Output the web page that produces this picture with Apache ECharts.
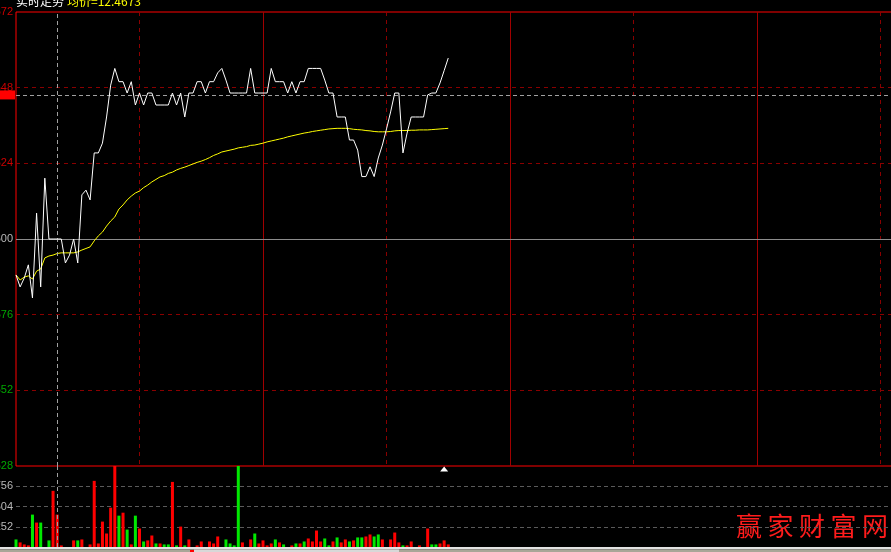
<!DOCTYPE html>
<html>
<head>
<meta charset="utf-8">
<script src="https://cdn.jsdelivr.net/npm/echarts@6/dist/echarts.min.js"></script>
<style>
html,body{margin:0;padding:0;background:#000;}
#chart{width:891px;height:552px;}
</style>
</head>
<body>
<div id="chart"></div>
<script>
// ---- data (prices in thousandths, e.g. 12600 = 12.600) ----
const priceLine = [
 12588.6,12584.8,12587.6,12591.8,12581.3,12608.2,12584.8,12619.3,12600.0,12600.0,
 12600.0,12600.0,12592.4,12594.9,12600.0,12592.4,12614.0,12615.5,12612.4,12627.3,
 12627.3,12630.4,12638.7,12648.8,12654.1,12649.9,12649.9,12646.3,12649.9,12642.5,
 12646.3,12642.5,12646.3,12646.3,12642.5,12642.5,12642.5,12642.5,12646.3,12642.5,
 12646.3,12638.7,12646.3,12646.3,12649.9,12649.9,12646.3,12649.9,12649.9,12652.7,
 12654.1,12650.4,12646.3,12646.3,12646.3,12646.3,12646.3,12654.1,12646.3,12646.3,
 12646.3,12646.3,12654.1,12649.9,12649.9,12649.9,12646.3,12649.9,12646.3,12649.9,
 12649.9,12654.1,12654.1,12654.1,12654.1,12650.4,12646.3,12646.3,12638.7,12638.7,
 12638.7,12631.4,12631.4,12628.2,12619.8,12619.8,12622.9,12619.8,12625.7,12629.8,
 12634.9,12640.3,12646.3,12646.3,12627.3,12633.6,12638.7,12638.7,12638.7,12638.7,
 12645.7,12646.3,12646.3,12649.5,12653.4,12657.4
];
const avgLine = [
 12588.6,12587.0,12587.9,12588.3,12587.3,12589.8,12590.5,12594.0,12594.6,12594.9,
 12595.4,12595.6,12595.6,12595.6,12595.6,12595.9,12596.5,12597.0,12597.5,12599.4,
 12601.0,12602.2,12604.1,12605.7,12607.0,12609.5,12610.8,12612.4,12613.6,12614.6,
 12615.2,12616.3,12617.1,12618.1,12618.9,12619.7,12620.1,12620.8,12621.2,12621.9,
 12622.4,12622.8,12623.3,12623.8,12624.3,12624.7,12625.2,12625.8,12626.5,12627.0,
 12627.6,12627.9,12628.2,12628.5,12628.9,12629.1,12629.3,12629.7,12629.8,12630.1,
 12630.4,12630.8,12631.1,12631.4,12631.7,12632.0,12632.4,12632.7,12633.0,12633.3,
 12633.6,12633.8,12634.1,12634.3,12634.5,12634.7,12634.9,12635.0,12635.1,12635.1,
 12635.1,12635.0,12634.8,12634.7,12634.6,12634.4,12634.3,12634.1,12634.0,12634.0,
 12634.0,12634.1,12634.3,12634.4,12634.4,12634.4,12634.5,12634.5,12634.6,12634.6,
 12634.6,12634.7,12634.8,12634.9,12635.0,12635.1
];
const volumes = [
 94,57,32,20,403,304,304,0,82,699,
 403,20,0,0,82,82,94,0,32,823,
 44,316,168,489,1008,390,427,217,32,390,
 230,69,82,143,44,44,32,32,810,20,
 254,20,94,0,20,69,0,69,44,131,
 0,94,44,20,1008,57,0,94,168,44,
 82,20,44,94,57,32,0,20,44,44,
 69,106,69,205,69,106,20,69,119,57,
 94,69,82,119,119,131,156,131,156,94,
 0,94,180,57,20,20,69,0,20,0,
 230,32,32,44,82,32
];
// 1 = up (red), -1 = down (green)
const volDir = [
 -1,1,1,1,-1,1,-1,1,-1,1,
 1,1,1,1,1,-1,1,1,1,1,
 1,1,1,1,1,-1,1,-1,1,-1,
 1,-1,1,1,-1,1,-1,-1,1,-1,
 1,-1,1,1,1,1,1,1,1,1,
 1,-1,-1,-1,-1,1,1,1,-1,1,
 1,1,1,-1,1,-1,1,1,-1,1,
 -1,1,1,1,1,-1,-1,1,-1,1,
 1,-1,1,-1,-1,1,1,-1,-1,1,
 1,1,1,1,-1,1,1,1,1,1,
 1,-1,-1,1,1,1
];
const prevClose = 12600;
const priceMin = 12528, priceMax = 12672, priceStep = 24;
const volMax = 1008, volStep = 252;
const crossIndex = 10;
const crossPrice = 12645.7;
const markerIndex = 104;
const titleLeft = '实时走势';
const titleRight = '均价=12.4673';
const watermark = ['赢','家','财','富','网'];

// time categories 09:30-11:30, 13:01-15:00
const times = [];
function fmt(m){const h=Math.floor(m/60), mm=m%60; return (h<10?'0':'')+h+':'+(mm<10?'0':'')+mm;}
for(let m=9*60+30;m<=11*60+30;m++) times.push(fmt(m));
for(let m=13*60+1;m<=15*60;m++) times.push(fmt(m));

const chart = echarts.init(document.getElementById('chart'), null, {renderer:'canvas'});
const lblFont = {fontSize:11, fontFamily:'Liberation Sans'};

const option = {
  backgroundColor:'#000000',
  animation:false,
  grid:[
    {left:16, top:12, width:988, height:454, show:true, borderColor:'#ff0000', borderWidth:1, backgroundColor:'transparent', containLabel:false, outerBoundsMode:'none'},
    {left:16, top:466, width:988, height:81, show:false, containLabel:false, outerBoundsMode:'none'}
  ],
  xAxis:[
    {type:'category', gridIndex:0, data:times, boundaryGap:false,
     axisLine:{show:false}, axisTick:{show:false}, axisLabel:{show:false},
     splitLine:{show:true, interval:function(i){return i%30===0 && i%60!==0;}, lineStyle:{color:'#8a0000', type:[4,4], width:1}}},
    {type:'category', gridIndex:0, data:times, boundaryGap:false, position:'top',
     axisLine:{show:false}, axisTick:{show:false}, axisLabel:{show:false},
     splitLine:{show:true, interval:function(i){return i>0 && i%60===0;}, lineStyle:{color:'#a00000', type:'solid', width:1}}},
    {type:'category', gridIndex:1, data:times, boundaryGap:false,
     axisLine:{show:false}, axisTick:{show:false}, axisLabel:{show:false}, splitLine:{show:false}}
  ],
  yAxis:[
    {type:'value', gridIndex:0, min:priceMin, max:priceMax, interval:priceStep, z:0,
     axisLine:{show:false}, axisTick:{show:false},
     axisLabel:{margin:3, formatter:function(v){
        const s=String(Math.round(v)).slice(-3);
        if(v>prevClose) return '{r|'+s+'}';
        if(v<prevClose) return '{g|'+s+'}';
        return '{w|'+s+'}';
      },
      rich:{r:Object.assign({color:'#cc0000'},lblFont), g:Object.assign({color:'#00a800'},lblFont), w:Object.assign({color:'#b8b8b8'},lblFont)}},
     splitLine:{show:true, showMinLine:false, showMaxLine:false, lineStyle:{color:'#8a0000', type:[4,4], width:1}}},
    {type:'value', gridIndex:1, min:0, max:volMax, interval:volStep,
     axisLine:{show:false}, axisTick:{show:false},
     axisLabel:Object.assign({margin:3, color:'#b8b8b8', formatter:function(v){return (v===0||v===volMax)?'':String(v);}}, lblFont),
     splitLine:{show:true, showMinLine:false, showMaxLine:false, lineStyle:{color:'#5a5a5a', type:[4,3], width:1}}},
    // previous-close reference line (solid grey at 12.600)
    {type:'value', gridIndex:0, min:priceMin, max:priceMax, interval:prevClose-priceMin, z:1,
     axisLine:{show:false}, axisTick:{show:false}, axisLabel:{show:false},
     splitLine:{show:true, showMinLine:false, showMaxLine:false, lineStyle:{color:'#8c8c8c', type:'solid', width:1}}}
  ],
  series:[
    {name:'价格', type:'line', xAxisIndex:0, yAxisIndex:0, data:priceLine, showSymbol:false,
     lineStyle:{color:'#ffffff', width:1}, itemStyle:{color:'#ffffff'}, z:5,
     markLine:{silent:true, symbol:'none', animation:false,
       data:[
        {yAxis:crossPrice, lineStyle:{color:'#a0a0a0', type:[4,3], width:1},
         label:{show:true, position:'start', distance:1, formatter:' ', backgroundColor:'#ff0000', width:15, height:9, padding:0, fontSize:8}},
        {xAxis:times[crossIndex], lineStyle:{color:'#a0a0a0', type:[4,3], width:1}, label:{show:false}}
       ]}},
    {name:'均价', type:'line', xAxisIndex:0, yAxisIndex:0, data:avgLine, showSymbol:false,
     lineStyle:{color:'#ffff00', width:1}, itemStyle:{color:'#ffff00'}, z:4},
    {name:'成交量', type:'bar', xAxisIndex:2, yAxisIndex:1, barWidth:3,
     data:volumes.map(function(v,i){return {value:v, itemStyle:{color: volDir[i]>0 ? '#ff0000' : '#00e800'}};}),
     markLine:{silent:true, symbol:'none', animation:false,
       data:[{xAxis:times[crossIndex], lineStyle:{color:'#a0a0a0', type:[4,3], width:1}, label:{show:false}}]},
     markPoint:{silent:true, symbol:'triangle', symbolSize:[8,5], symbolOffset:[0,3], itemStyle:{color:'#ffffff'}, label:{show:false},
       data:[{coord:[times[markerIndex], volMax]}]}}
  ],
  graphic:[
    {type:'text', left:16, top:-5, z:100, style:{text:'{a|'+titleLeft+'}{b|'+titleRight+'}',
      rich:{a:{fill:'#ffffff', fontSize:12, fontFamily:'Noto Sans CJK SC', padding:[0,3,0,0]}, b:{fill:'#ffff00', fontSize:12, fontFamily:'Noto Sans CJK SC'}}}},
    {type:'group', left:736, top:513, z:100, children: watermark.map(function(c,i){
      return {type:'text', x:i*31.5, y:0, style:{text:c, fill:'#ff1c1c', fontSize:26, fontFamily:'Noto Sans CJK SC'}};
    })},
    {type:'rect', z:100, shape:{x:0, y:547, width:891, height:2.5}, style:{fill:'#e2e2e2'}},
    {type:'rect', z:100, shape:{x:0, y:549.5, width:891, height:2.5}, style:{fill:'#a9a697'}},
    {type:'rect', z:101, shape:{x:194, y:549.5, width:205, height:2.5}, style:{fill:'#d8d8d8'}},
    {type:'rect', z:101, shape:{x:190, y:550, width:4, height:2}, style:{fill:'#ff0000'}}
  ]
};
chart.setOption(option);
</script>
</body>
</html>
